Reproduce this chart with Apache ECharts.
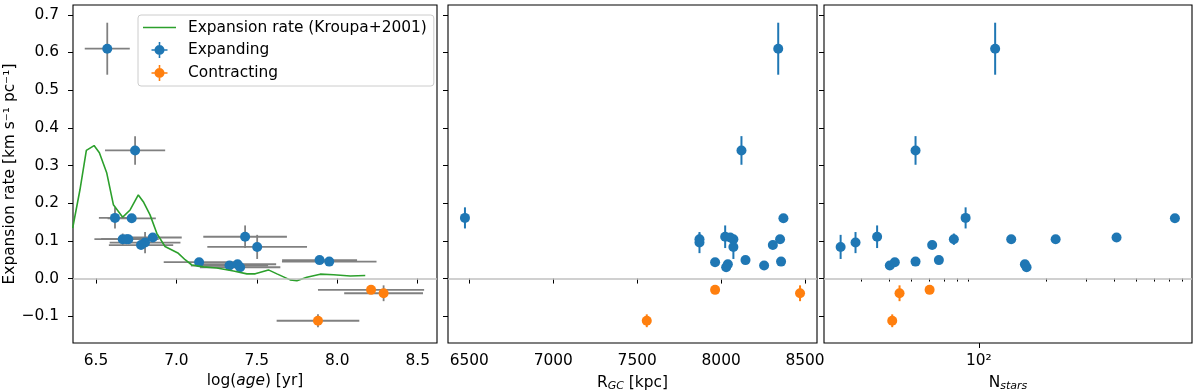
<!DOCTYPE html>
<html>
<head>
<meta charset="utf-8">
<script src="https://cdn.jsdelivr.net/npm/echarts@6/dist/echarts.min.js"></script>
<style>
  html, body { margin: 0; padding: 0; background: #fff; }
  #chart { width: 1200px; height: 391px; }
</style>
</head>
<body>
<div id="chart"></div>
<script>
// expanding clusters
const expLogAge = [7.502, 6.805, 7.427, 7.330, 7.141, 6.743, 7.950, 6.780, 7.890, 6.666, 6.618, 6.570, 6.701, 7.380, 7.396, 6.690, 6.853, 6.722];
const expLogAgeErr = [0.31, 0.22, 0.26, 0.24, 0.22, 0.187, 0.294, 0.2, 0.233, 0.13, 0.1, 0.14, 0.17, 0.24, 0.25, 0.2, 0.18, 0.15];
const expRate = [0.084, 0.0955, 0.111, 0.0345, 0.0435, 0.34, 0.045, 0.089, 0.049, 0.1045, 0.161, 0.61, 0.1045, 0.038, 0.030, 0.1045, 0.109, 0.160];
const expRateErr = [0.032, 0.028, 0.03, 0.004, 0.005, 0.038, 0.011, 0.005, 0.005, 0.015, 0.028, 0.069, 0.004, 0.004, 0.004, 0.004, 0.004, 0.004];
const expRgc = [8073, 7871, 8024, 8256, 7964, 8121, 8357, 8308, 8145, 7871, 6474, 8340, 8351, 8040, 8030, 8073, 8054, 8371];
const expNstars = [24.3, 28.3, 35.3, 40.2, 42.3, 52.3, 52.3, 62, 66.4, 77.4, 87.3, 118.1, 139.2, 160.1, 162.9, 219.3, 409, 743];

// contracting clusters
const conLogAge = [7.880, 8.288, 8.210];
const conLogAgeErr = [0.257, 0.245, 0.33];
const conRate = [-0.112, -0.039, -0.030];
const conRateErr = [0.017, 0.021, 0.004];
const conRgc = [7557, 8470, 7964];
const conNstars = [41.2, 44.4, 60.4];

// Kroupa+2001 model curve
const modelLogAge = [6.355, 6.40, 6.44, 6.488, 6.521, 6.567, 6.608, 6.666, 6.712, 6.763, 6.794, 6.836, 6.878, 6.929, 7.012, 7.054, 7.096, 7.168, 7.251, 7.355, 7.438, 7.490, 7.572, 7.625, 7.707, 7.749, 7.811, 7.894, 7.977, 8.081, 8.174];
const modelRate = [0.134, 0.235, 0.34, 0.353, 0.334, 0.28, 0.196, 0.163, 0.182, 0.222, 0.204, 0.169, 0.12, 0.085, 0.067, 0.05, 0.036, 0.031, 0.028, 0.020, 0.0125, 0.0125, 0.023, 0.0125, -0.0035, -0.006, 0.0037, 0.0117, 0.01, 0.007, 0.008];

// ticks
const rateTicks = [-0.1, 0, 0.1, 0.2, 0.3, 0.4, 0.5, 0.6, 0.7];
const ageTicks = [6.5, 7.0, 7.5, 8.0, 8.5];
const rgcTicks = [6500, 7000, 7500, 8000, 8500];
const nMinorTicks = [30, 40, 50, 60, 70, 80, 90, 200, 300, 400, 500, 600, 700, 800];
const nMajorTicks = [100];

const BLUE = '#1f77b4';
const ORANGE = '#ff7f0e';
const GREEN = '#2ca02c';
const FONT = 'DejaVu Sans';
const FS = 15.4;
const YMIN = -0.171, YMAX = 0.726;

const chart = echarts.init(document.getElementById('chart'));

const pts = (xs, ys, xe, ye) => xs.map((x, i) => [x, ys[i], xe ? xe[i] : 0, ye[i]]);

function errorBars(data, color, width, xAxisIndex, yAxisIndex) {
    return {
        type: 'custom', xAxisIndex, yAxisIndex, data, silent: true, z: 1,
        renderItem: (params, api) => {
            const x = api.value(0), y = api.value(1), xe = api.value(2), ye = api.value(3);
            const style = { stroke: color, lineWidth: width };
            const kids = [];
            if (xe > 0) {
                const a = api.coord([x - xe, y]), b = api.coord([x + xe, y]);
                kids.push({ type: 'line', shape: { x1: a[0], y1: a[1], x2: b[0], y2: b[1] }, style });
            }
            if (ye > 0) {
                const a = api.coord([x, y - ye]), b = api.coord([x, y + ye]);
                kids.push({ type: 'line', shape: { x1: a[0], y1: a[1], x2: b[0], y2: b[1] }, style });
            }
            return { type: 'group', children: kids };
        }
    };
}

const zeroLine = {
    silent: true, symbol: ['none', 'none'], label: { show: false },
    lineStyle: { color: '#c0c0c0', width: 1.5, type: 'solid' },
    data: [{ yAxis: 0 }]
};

function scatter(name, data, color, xAxisIndex, yAxisIndex, withZero) {
    const s = {
        type: 'scatter', name, data, xAxisIndex, yAxisIndex, z: 3,
        symbol: 'circle', symbolSize: 10, itemStyle: { color, opacity: 1 }
    };
    if (withZero) s.markLine = zeroLine;
    return s;
}

const tick = (vals, len) => ({ show: true, customValues: vals, length: len, lineStyle: { color: '#000', width: 1 } });
const label = { color: '#000', fontFamily: FONT, fontSize: FS };
const nm = { fontFamily: FONT, fontSize: FS, color: '#000' };
const sub = { fontFamily: FONT, fontSize: 11, fontStyle: 'italic', color: '#000', padding: [8, 0, 0, 0] };

const errMarker = 'path://M0,7.2h16v1.6h-16z M7.2,0h1.6v16h-1.6z M13,8a5,5 0 1,1 -10,0a5,5 0 1,1 10,0z';
const lineMarker = 'path://M0,0h33v1.6h-33z';

const grids = [
    { left: 73, top: 5, width: 364, height: 338 },
    { left: 448, top: 5, width: 369, height: 338 },
    { left: 824, top: 5, width: 368, height: 338 }
].map(g => Object.assign(g, { show: true, borderColor: '#000', borderWidth: 1.1, containLabel: false, outerBoundsMode: 'none' }));

const yAxis = [0, 1, 2].map(i => ({
    type: 'value', gridIndex: i, min: YMIN, max: YMAX,
    axisLine: { show: false }, splitLine: { show: false },
    axisTick: tick(rateTicks, 5),
    axisLabel: Object.assign({
        show: i === 0, customValues: rateTicks, margin: 14,
        formatter: v => (v < 0 ? '\u2212' : '') + Math.abs(v).toFixed(1)
    }, label),
    name: i === 0 ? 'Expansion rate [km s\u207B\u00B9 pc\u207B\u00B9]' : '',
    nameLocation: 'middle', nameGap: 56,
    nameTextStyle: nm
}));

const xAxis = [
    {
        type: 'value', gridIndex: 0, min: 6.357, max: 8.62,
        axisLine: { show: false }, splitLine: { show: false },
        axisTick: tick(ageTicks, 5),
        axisLabel: Object.assign({ customValues: ageTicks, margin: 10, formatter: v => v.toFixed(1) }, label),
        name: '{n|log(}{i|age}{n|) [yr]}', nameLocation: 'middle', nameGap: 30,
        nameTextStyle: { rich: { n: nm, i: Object.assign({}, nm, { fontStyle: 'italic' }) } }
    },
    {
        type: 'value', gridIndex: 1, min: 6373, max: 8571,
        axisLine: { show: false }, splitLine: { show: false },
        axisTick: tick(rgcTicks, 5),
        axisLabel: Object.assign({ customValues: rgcTicks, margin: 10, formatter: v => String(v) }, label),
        name: '{n|R}{s|GC}{n| [kpc]}', nameLocation: 'middle', nameGap: 30,
        nameTextStyle: { rich: { n: nm, s: sub } }
    },
    {
        type: 'log', logBase: 10, gridIndex: 2, min: 20.5, max: 885,
        axisLine: { show: false }, splitLine: { show: false }, minorTick: { show: false },
        axisTick: tick(nMinorTicks, 3),
        axisLabel: { show: false },
        name: '{n|N}{s|stars}', nameLocation: 'middle', nameGap: 30,
        nameTextStyle: { rich: { n: nm, s: sub } }
    },
    {
        type: 'log', logBase: 10, gridIndex: 2, position: 'bottom', min: 20.5, max: 885,
        axisLine: { show: false }, splitLine: { show: false },
        axisTick: tick(nMajorTicks, 5),
        axisLabel: Object.assign({ customValues: nMajorTicks, margin: 10, formatter: () => '10\u00B2' }, label)
    }
];

const series = [
    // panel 1: age
    errorBars(pts(expLogAge, expRate, expLogAgeErr, expRateErr), '#808080', 1.8, 0, 0),
    errorBars(pts(conLogAge, conRate, conLogAgeErr, conRateErr), '#808080', 1.8, 0, 0),
    scatter('Expanding', pts(expLogAge, expRate, null, expRateErr), BLUE, 0, 0, true),
    scatter('Contracting', pts(conLogAge, conRate, null, conRateErr), ORANGE, 0, 0, false),
    {
        type: 'line', name: 'Expansion rate (Kroupa+2001)', xAxisIndex: 0, yAxisIndex: 0, z: 4,
        data: modelLogAge.map((a, i) => [a, modelRate[i]]),
        symbol: 'none', showSymbol: false, clip: true,
        lineStyle: { color: GREEN, width: 1.6 }, itemStyle: { color: GREEN }
    },
    // panel 2: galactocentric radius
    errorBars(pts(expRgc, expRate, null, expRateErr), BLUE, 2, 1, 1),
    errorBars(pts(conRgc, conRate, null, conRateErr), ORANGE, 2, 1, 1),
    scatter('Expanding', pts(expRgc, expRate, null, expRateErr), BLUE, 1, 1, true),
    scatter('Contracting', pts(conRgc, conRate, null, conRateErr), ORANGE, 1, 1, false),
    // panel 3: number of stars
    errorBars(pts(expNstars, expRate, null, expRateErr), BLUE, 2, 2, 2),
    errorBars(pts(conNstars, conRate, null, conRateErr), ORANGE, 2, 2, 2),
    scatter('Expanding', pts(expNstars, expRate, null, expRateErr), BLUE, 2, 2, true),
    scatter('Contracting', pts(conNstars, conRate, null, conRateErr), ORANGE, 2, 2, false)
];

chart.setOption({
    animation: false,
    grid: grids,
    xAxis,
    yAxis,
    legend: {
        orient: 'vertical', left: 138, top: 15,
        padding: [5, 7, 5, 5], itemWidth: 33, itemHeight: 16, itemGap: 7,
        backgroundColor: 'rgba(255,255,255,0.8)', borderColor: '#cccccc', borderWidth: 1, borderRadius: 3,
        selectedMode: false,
        textStyle: { fontFamily: FONT, fontSize: FS, color: '#000', padding: [0, 0, 0, 7] },
        data: [
            { name: 'Expansion rate (Kroupa+2001)', icon: lineMarker },
            { name: 'Expanding', icon: errMarker },
            { name: 'Contracting', icon: errMarker }
        ]
    },
    series
});
</script>
</body>
</html>
